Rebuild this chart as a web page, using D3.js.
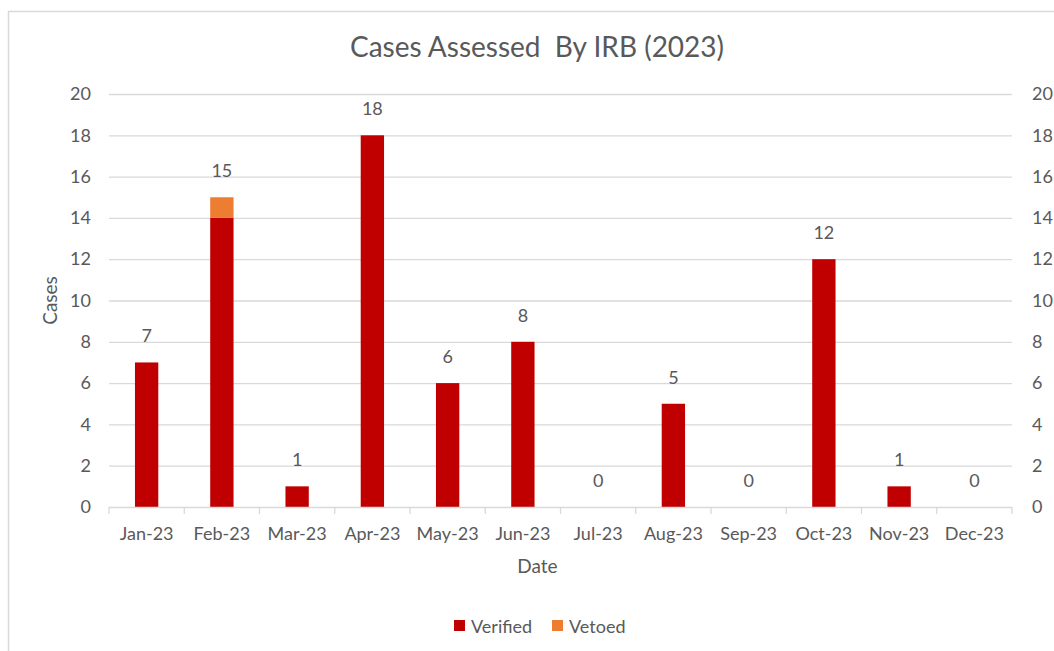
<!DOCTYPE html>
<html>
<head>
<meta charset="utf-8">
<script src="https://cdn.jsdelivr.net/npm/d3@7"></script>
<style>
  body { margin: 0; background: #fff; }
  text { font-family: Lato, "Open Sans", sans-serif; fill: #595959; }
</style>
</head>
<body>
<div id="chart"></div>
<script>
// data
let months = ["Jan-23","Feb-23","Mar-23","Apr-23","May-23","Jun-23","Jul-23","Aug-23","Sep-23","Oct-23","Nov-23","Dec-23"]
let verified = [7, 14, 1, 18, 6, 8, 0, 5, 0, 12, 1, 0]
let vetoed   = [0, 1, 0, 0, 0, 0, 0, 0, 0, 0, 0, 0]
let yTicks = [0, 2, 4, 6, 8, 10, 12, 14, 16, 18, 20]
let seriesNames = ["Verified", "Vetoed"]
let colors = ["#C00000", "#ED7D31"]

let W = 1054, H = 651
let margin = { top: 94, right: 42, bottom: 144, left: 109 },
  width = W - margin.left - margin.right,
  height = H - margin.top - margin.bottom

let rows = months.map((m, i) => ({ month: m, Verified: verified[i], Vetoed: vetoed[i] }))
let stacked = d3.stack().keys(seriesNames)(rows)

let svg = d3.select("#chart").append("svg")
  .attr("width", W)
  .attr("height", H)

// outer chart border
svg.append("rect")
  .attr("x", 8.5).attr("y", 11.5)
  .attr("width", 1100).attr("height", 700)
  .attr("fill", "none")
  .attr("stroke", "#D9D9D9")
  .attr("stroke-width", 1.5)

let g = svg.append("g")
  .attr("transform", "translate(" + margin.left + "," + margin.top + ")")

let x = d3.scaleBand()
  .domain(months)
  .range([0, width])
  .paddingInner(0.69)
  .paddingOuter(0.345)

let xEdge = d3.scaleLinear().domain([0, months.length]).range([0, width])

let y = d3.scaleLinear()
  .domain([0, 20])
  .range([height, 0])

// gridlines
g.append("g")
  .selectAll("line")
  .data(yTicks.filter(t => t > 0))
  .join("line")
  .attr("x1", 0).attr("x2", width)
  .attr("y1", d => y(d) + 0.5).attr("y2", d => y(d) + 0.5)
  .attr("stroke", "#D9D9D9")
  .attr("stroke-width", 1.3)

// left axis labels
let leftAx = g.append("g")
  .call(d3.axisLeft(y).tickValues(yTicks).tickSize(0).tickPadding(18))
leftAx.select(".domain").remove()
leftAx.selectAll("text").style("font-size", "18px").attr("fill", "#595959")

// right axis labels
let rightAx = g.append("g")
  .attr("transform", "translate(" + width + ",0)")
  .call(d3.axisRight(y).tickValues(yTicks).tickSize(0).tickPadding(20))
rightAx.select(".domain").remove()
rightAx.selectAll("text").style("font-size", "18px").attr("fill", "#595959")

// bars
g.append("g")
  .selectAll("g")
  .data(stacked)
  .join("g")
  .attr("fill", (d, i) => colors[i])
  .selectAll("rect")
  .data(d => d)
  .join("rect")
  .attr("x", d => x(d.data.month))
  .attr("y", d => y(d[1]))
  .attr("width", x.bandwidth())
  .attr("height", d => y(d[0]) - y(d[1]))

// x axis baseline and ticks
g.append("line")
  .attr("x1", 0).attr("x2", width)
  .attr("y1", height + 0.5).attr("y2", height + 0.5)
  .attr("stroke", "#D9D9D9")
  .attr("stroke-width", 1.3)
g.append("g")
  .selectAll("line")
  .data(d3.range(months.length + 1))
  .join("line")
  .attr("x1", d => xEdge(d)).attr("x2", d => xEdge(d))
  .attr("y1", height).attr("y2", height + 7)
  .attr("stroke", "#D9D9D9")
  .attr("stroke-width", 1.3)

g.append("g")
  .selectAll("text")
  .data(months)
  .join("text")
  .attr("x", d => x(d) + x.bandwidth() / 2)
  .attr("y", height + 33)
  .attr("text-anchor", "middle")
  .style("font-size", "18px")
  .text(d => d)

// totals above bars
g.append("g")
  .selectAll("text")
  .data(rows)
  .join("text")
  .attr("x", d => x(d.month) + x.bandwidth() / 2)
  .attr("y", d => y(d.Verified + d.Vetoed) - 20)
  .attr("text-anchor", "middle")
  .style("font-size", "18px")
  .text(d => d.Verified + d.Vetoed)

// axis titles
g.append("text")
  .attr("x", width / 2 - 23)
  .attr("y", height + 66)
  .attr("text-anchor", "middle")
  .style("font-size", "19px")
  .text("Date")

g.append("text")
  .attr("transform", "translate(-52," + (height / 2) + ") rotate(-90)")
  .attr("text-anchor", "middle")
  .style("font-size", "19px")
  .text("Cases")

// title
svg.append("text")
  .attr("x", 537)
  .attr("y", 57)
  .attr("text-anchor", "middle")
  .style("font-size", "28px")
  .style("white-space", "pre")
  .text("Cases Assessed  By IRB (2023)")

// legend
let legend = svg.append("g")
  .attr("transform", "translate(454,626)")
let items = legend.selectAll("g")
  .data(seriesNames)
  .join("g")
  .attr("transform", (d, i) => "translate(" + (i * 98) + ",0)")
items.append("rect")
  .attr("x", 0).attr("y", -6)
  .attr("width", 11).attr("height", 11)
  .attr("fill", (d, i) => colors[i])
items.append("text")
  .attr("x", 17).attr("y", 6.5)
  .style("font-size", "18px")
  .text(d => d)
</script>
</body>
</html>
